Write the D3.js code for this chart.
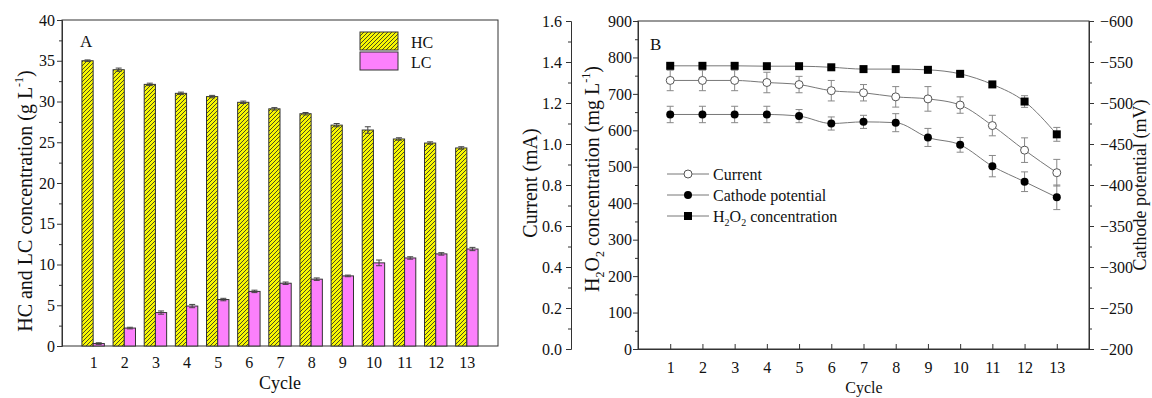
<!DOCTYPE html>
<html>
<head>
<meta charset="utf-8">
<script src="https://cdn.jsdelivr.net/npm/d3@7"></script>
<style>
  body { margin: 0; background: #fff; }
  text { font-family: "Liberation Serif", "Times New Roman", serif; fill: #111; }
</style>
</head>
<body>
<svg id="fig" width="1152" height="398"></svg>
<script>
// ---- data ----
const cycles = [1, 2, 3, 4, 5, 6, 7, 8, 9, 10, 11, 12, 13]
const cycleTicks = ["1", "2", "3", "4", "5", "6", "7", "8", "9", "10", "11", "12", "13"]

// panel A: g/L
const hcConc = [35.0, 33.9, 32.1, 31.0, 30.6, 29.9, 29.1, 28.5, 27.1, 26.5, 25.4, 24.9, 24.3]
const hcErr  = [0.1, 0.2, 0.15, 0.15, 0.15, 0.15, 0.15, 0.15, 0.2, 0.4, 0.15, 0.15, 0.15]
const lcConc = [0.3, 2.2, 4.1, 4.9, 5.7, 6.7, 7.7, 8.2, 8.6, 10.2, 10.8, 11.3, 11.9]
const lcErr  = [0.1, 0.1, 0.2, 0.2, 0.15, 0.15, 0.15, 0.15, 0.1, 0.35, 0.15, 0.15, 0.2]

// panel B
const currentMA  = [1.31, 1.31, 1.31, 1.30, 1.29, 1.26, 1.25, 1.23, 1.22, 1.19, 1.09, 0.97, 0.86]
const currentErr = [0.05, 0.05, 0.05, 0.05, 0.04, 0.05, 0.04, 0.05, 0.06, 0.04, 0.05, 0.06, 0.065]
const cathodeMV  = [-486, -486, -486, -486, -484, -475, -477, -476, -458, -449, -423, -404, -385]
const cathodeErr = [10, 10, 10, 10, 8, 8, 8, 11, 11, 9, 13, 12, 15]
const h2o2Conc   = [777, 777, 777, 776, 776, 773, 768, 768, 766, 755, 726, 679, 589]
const h2o2Err    = [5, 5, 5, 5, 5, 5, 5, 5, 5, 6, 8, 16, 19]

const ticksA = [0, 5, 10, 15, 20, 25, 30, 35, 40]
const ticksCurrent = [0, 0.2, 0.4, 0.6, 0.8, 1.0, 1.2, 1.4, 1.6]
const ticksH2O2 = [0, 100, 200, 300, 400, 500, 600, 700, 800, 900]
const ticksCathode = [-200, -250, -300, -350, -400, -450, -500, -550, -600]

const svg = d3.select("#fig")
const ink = "#333"

// hatch for HC bars
const defs = svg.append("defs")
const pat = defs.append("pattern")
  .attr("id", "hatch").attr("patternUnits", "userSpaceOnUse")
  .attr("width", 4).attr("height", 4)
pat.append("rect").attr("width", 4).attr("height", 4).attr("fill", "#f8f800")
pat.append("path").attr("d", "M-1,1 l2,-2 M0,4 l4,-4 M3,5 l2,-2")
  .attr("stroke", "#2a2a2a").attr("stroke-width", 0.85)

function styleAxis(g) {
  g.selectAll(".domain").attr("stroke", ink)
  g.selectAll(".tick line").attr("stroke", ink)
  g.selectAll(".tick text").attr("font-size", 16).attr("fill", "#111")
    .attr("font-family", "Liberation Serif, Times New Roman, serif")
}
function minor(g, axis, values) {
  g.call(axis.tickValues(values).tickFormat("").tickSize(3))
  g.select(".domain").remove()
  g.selectAll(".tick line").attr("stroke", ink)
}
const halfSteps = (arr) => arr.slice(1).map((v, i) => (v + arr[i]) / 2)

// ================= panel A =================
const xA = d3.scaleLinear().domain([0, 14]).range([62, 498])
const yA = d3.scaleLinear().domain([0, 40]).range([346, 20])
const barW = xA(0.36) - xA(0)
const A = svg.append("g")

A.append("rect").attr("x", 62).attr("y", 20).attr("width", 436).attr("height", 326)
  .attr("fill", "none").attr("stroke", ink)

// bars
A.selectAll(".hc").data(cycles).join("rect")
  .attr("x", d => xA(d) - barW).attr("width", barW)
  .attr("y", (d, i) => yA(hcConc[i])).attr("height", (d, i) => yA(0) - yA(hcConc[i]))
  .attr("fill", "url(#hatch)").attr("stroke", ink).attr("stroke-width", 1)
A.selectAll(".lc").data(cycles).join("rect")
  .attr("x", d => xA(d)).attr("width", barW)
  .attr("y", (d, i) => yA(lcConc[i])).attr("height", (d, i) => yA(0) - yA(lcConc[i]))
  .attr("fill", "#fc80fc").attr("stroke", ink).attr("stroke-width", 1)

// error bars A
function errA(vals, errs, offset) {
  cycles.forEach((c, i) => {
    const cx = xA(c) + offset
    const g = A.append("g").attr("stroke", "#444").attr("stroke-width", 1)
    g.append("line").attr("x1", cx).attr("x2", cx)
      .attr("y1", yA(vals[i] + errs[i])).attr("y2", yA(vals[i] - errs[i]))
    ;[1, -1].forEach(s => g.append("line")
      .attr("x1", cx - 3).attr("x2", cx + 3)
      .attr("y1", yA(vals[i] + s * errs[i])).attr("y2", yA(vals[i] + s * errs[i])))
  })
}
errA(hcConc, hcErr, -barW / 2)
errA(lcConc, lcErr, barW / 2)

// axes A
const yAxA = A.append("g").attr("transform", "translate(62,0)")
  .call(d3.axisLeft(yA).tickValues(ticksA).tickSize(5).tickPadding(2))
styleAxis(yAxA)
minor(A.append("g").attr("transform", "translate(62,0)"), d3.axisLeft(yA), halfSteps(ticksA))

const xAxA = A.append("g").attr("transform", "translate(0,346)")
  .call(d3.axisBottom(xA).tickValues(cycles).tickFormat((d, i) => cycleTicks[i]).tickSize(0).tickPadding(11))
styleAxis(xAxA)
xAxA.select(".domain").remove()

A.append("text").attr("x", 80).attr("y", 47).attr("font-size", 17).text("A")
A.append("text").attr("x", 280).attr("y", 389).attr("text-anchor", "middle").attr("font-size", 18).text("Cycle")
const tA = A.append("text").attr("transform", "translate(32,201) rotate(-90)")
  .attr("text-anchor", "middle").attr("font-size", 20)
tA.append("tspan").text("HC and LC concentration (g L")
tA.append("tspan").attr("font-size", 12).attr("dy", -9).text("-1")
tA.append("tspan").attr("dy", 9).text(")")

// legend A
const legA = [["HC", "url(#hatch)"], ["LC", "#fc80fc"]]
legA.forEach(([name, fill], i) => {
  A.append("rect").attr("x", 360).attr("y", 32 + i * 20).attr("width", 38).attr("height", 18)
    .attr("fill", fill).attr("stroke", ink)
  A.append("text").attr("x", 411).attr("y", 47.5 + i * 20.5).attr("font-size", 16).text(name)
})

// ================= panel B =================
const xB = d3.scaleLinear().domain([0, 14]).range([638, 1089])
const yCur = d3.scaleLinear().domain([0, 1.6]).range([349, 21])
const yH2 = d3.scaleLinear().domain([0, 900]).range([349, 21])
const yCat = d3.scaleLinear().domain([-200, -600]).range([349, 21])
const B = svg.append("g")

B.append("rect").attr("x", 638).attr("y", 21).attr("width", 451).attr("height", 328)
  .attr("fill", "none").attr("stroke", ink)

// axes B
const axCur = B.append("g").attr("transform", "translate(571,0)")
  .call(d3.axisLeft(yCur).tickValues(ticksCurrent).tickFormat(d3.format(".1f")).tickSize(5).tickPadding(4))
styleAxis(axCur)
minor(B.append("g").attr("transform", "translate(571,0)"), d3.axisLeft(yCur), halfSteps(ticksCurrent))

const axH2 = B.append("g").attr("transform", "translate(638,0)")
  .call(d3.axisLeft(yH2).tickValues(ticksH2O2).tickSize(5).tickPadding(1))
styleAxis(axH2)
minor(B.append("g").attr("transform", "translate(638,0)"), d3.axisLeft(yH2), halfSteps(ticksH2O2))

const axCat = B.append("g").attr("transform", "translate(1089,0)")
  .call(d3.axisRight(yCat).tickValues(ticksCathode).tickSize(5).tickPadding(6))
styleAxis(axCat)
minor(B.append("g").attr("transform", "translate(1089,0)"), d3.axisRight(yCat), halfSteps(ticksCathode))

const axXB = B.append("g").attr("transform", "translate(0,349)")
  .call(d3.axisBottom(xB).tickValues(cycles).tickFormat((d, i) => cycleTicks[i]).tickSize(-5).tickPadding(13))
styleAxis(axXB)

// series
const series = [
  { vals: currentMA, errs: currentErr, y: yCur, shape: "open" },
  { vals: cathodeMV, errs: cathodeErr, y: yCat, shape: "dot" },
  { vals: h2o2Conc, errs: h2o2Err, y: yH2, shape: "square" }
]
function marker(g, shape, cx, cy) {
  if (shape === "square") {
    g.append("rect").attr("x", cx - 4).attr("y", cy - 4).attr("width", 8).attr("height", 8).attr("fill", "#000")
  } else if (shape === "dot") {
    g.append("circle").attr("cx", cx).attr("cy", cy).attr("r", 4).attr("fill", "#000")
  } else {
    g.append("circle").attr("cx", cx).attr("cy", cy).attr("r", 4).attr("fill", "#fff")
      .attr("stroke", "#555").attr("stroke-width", 1)
  }
}
series.forEach(s => {
  const line = d3.line().x((d, i) => xB(cycles[i])).y(d => s.y(d)).curve(d3.curveMonotoneX)
  B.append("path").attr("d", line(s.vals)).attr("fill", "none").attr("stroke", "#777").attr("stroke-width", 1)
  cycles.forEach((c, i) => {
    const cx = xB(c)
    const g = B.append("g").attr("stroke", "#888").attr("stroke-width", 1)
    const hi = s.y(s.vals[i] + s.errs[i]), lo = s.y(s.vals[i] - s.errs[i])
    g.append("line").attr("x1", cx).attr("x2", cx).attr("y1", hi).attr("y2", lo)
    g.append("line").attr("x1", cx - 3.5).attr("x2", cx + 3.5).attr("y1", hi).attr("y2", hi)
    g.append("line").attr("x1", cx - 3.5).attr("x2", cx + 3.5).attr("y1", lo).attr("y2", lo)
  })
  cycles.forEach((c, i) => marker(B, s.shape, xB(c), s.y(s.vals[i])))
})

// legend B
const legB = [["open", "Current"], ["dot", "Cathode potential"], ["square", "H2O2"]]
legB.forEach(([shape, name], i) => {
  const ly = 174 + i * 21
  B.append("line").attr("x1", 667).attr("x2", 709).attr("y1", ly).attr("y2", ly).attr("stroke", "#777")
  marker(B, shape, 688, ly)
  const t = B.append("text").attr("x", 713).attr("y", ly + 5.5).attr("font-size", 16)
  if (name === "H2O2") {
    t.append("tspan").text("H")
    t.append("tspan").attr("font-size", 10).attr("dy", 4).text("2")
    t.append("tspan").attr("dy", -4).text("O")
    t.append("tspan").attr("font-size", 10).attr("dy", 4).text("2")
    t.append("tspan").attr("dy", -4).text(" concentration")
  } else t.text(name)
})

B.append("text").attr("x", 650).attr("y", 50).attr("font-size", 17).text("B")
B.append("text").attr("x", 864).attr("y", 393).attr("text-anchor", "middle").attr("font-size", 16).text("Cycle")

B.append("text").attr("transform", "translate(537,183) rotate(-90)")
  .attr("text-anchor", "middle").attr("font-size", 20).text("Current (mA)")

const tH = B.append("text").attr("transform", "translate(599,179) rotate(-90)")
  .attr("text-anchor", "middle").attr("font-size", 20)
tH.append("tspan").text("H")
tH.append("tspan").attr("font-size", 12).attr("dy", 5).text("2")
tH.append("tspan").attr("dy", -5).text("O")
tH.append("tspan").attr("font-size", 12).attr("dy", 5).text("2")
tH.append("tspan").attr("dy", -5).text(" concentration (mg L")
tH.append("tspan").attr("font-size", 12).attr("dy", -9).text("-1")
tH.append("tspan").attr("dy", 9).text(")")

B.append("text").attr("transform", "translate(1146,185) rotate(-90)")
  .attr("text-anchor", "middle").attr("font-size", 18).text("Cathode potential (mV)")
</script>
</body>
</html>
